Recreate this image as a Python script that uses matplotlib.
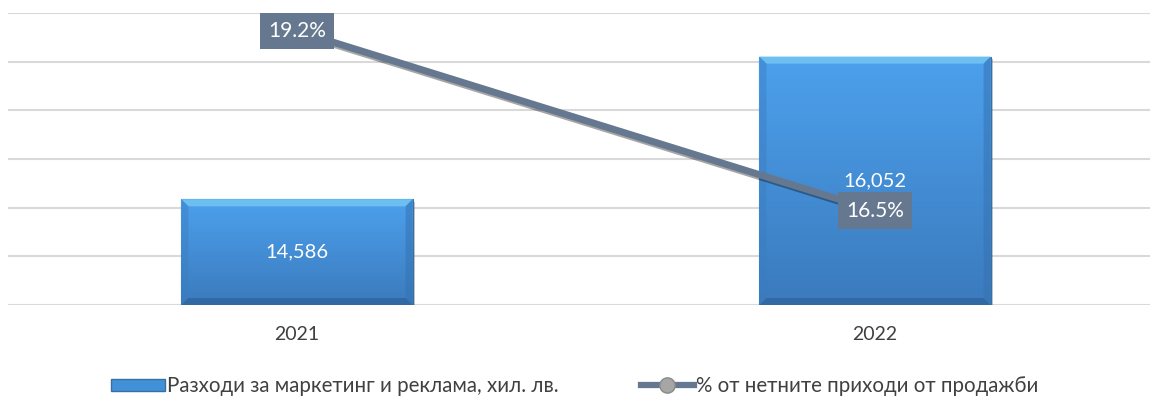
import numpy as np
import matplotlib.pyplot as plt
import matplotlib.patheffects as pe
from matplotlib.lines import Line2D
from matplotlib.patches import Patch, Polygon

plt.rcParams['font.family'] = ['Lato', 'DejaVu Sans']

years = ['2021', '2022']
spend = [14586, 16052]          # хил. лв.
share = [19.2, 16.5]            # % от нетните приходи

bar_label = 'Разходи за маркетинг и реклама, хил. лв.'
line_label = '% от нетните приходи от продажби'

line_col = '#66788f'
grid_col = '#d9d9d9'
text_col = '#404040'

fig = plt.figure(figsize=(11.5, 3.96), dpi=100)
ax = fig.add_axes([8 / 1150, 91 / 396, 1156 / 1150, 292 / 396])
ax2 = ax.twinx()

x = np.arange(len(years))
ymin, ymax = 13500, 16500
ax.set_xlim(-0.5, 1.5)
ax.set_ylim(ymin, ymax)
ax.set_yticks(np.arange(ymin, ymax + 1, 500))
ax.yaxis.grid(True, color=grid_col, lw=1.5)
ax.set_axisbelow(True)
for s in ['top', 'right', 'left', 'bottom']:
    ax.spines[s].set_visible(False)
    ax2.spines[s].set_visible(False)
ax.tick_params(axis='y', left=False, labelleft=False)
ax.tick_params(axis='x', length=0, pad=15, labelsize=14, labelcolor=text_col)
ax.set_xticks(x)
ax.set_xticklabels(years)

# bars with vertical gradient and bevelled edges
bw = 0.4
bars = ax.bar(x, spend, width=bw, color='#4191d9', edgecolor='#3a6f9f', lw=0.8, zorder=2,
              path_effects=[pe.SimplePatchShadow(offset=(2, -2), alpha=0.25), pe.Normal()])
grad = np.linspace(0, 1, 256).reshape(-1, 1)
top = np.array([0.30, 0.63, 0.93])
bot = np.array([0.23, 0.48, 0.74])
img = top + (bot - top) * grad[..., None]
bx = 7 * bw / 231                 # bevel width in x units (~7 px)
by = 7 * (ymax - ymin) / 292      # bevel height in y units (~7 px)
for b in bars:
    x0, w, h = b.get_x(), b.get_width(), b.get_height()
    x1 = x0 + w
    im = ax.imshow(img, extent=(x0, x1, ymin, h), aspect='auto', zorder=2.1, origin='upper')
    im.set_clip_path(b)
    bevels = [
        ([(x0, h), (x1, h), (x1 - bx, h - by), (x0 + bx, h - by)], '#6fc4f2', 0.9),
        ([(x0, h), (x0 + bx, h - by), (x0 + bx, ymin + by), (x0, ymin)], '#3a7cc0', 0.45),
        ([(x1, h), (x1 - bx, h - by), (x1 - bx, ymin + by), (x1, ymin)], '#3573b3', 0.55),
        ([(x0, ymin), (x0 + bx, ymin + by), (x1 - bx, ymin + by), (x1, ymin)], '#2d6299', 0.7),
    ]
    for pts, c, a in bevels:
        ax.add_patch(Polygon(pts, closed=True, fc=c, ec='none', alpha=a, zorder=2.2))
    ax.text(x0 + w / 2, ymin + (h - ymin) / 2, f'{h:,.0f}', ha='center', va='center',
            color='white', fontsize=14.5, zorder=3)

# line on secondary axis
ax2.set_ylim(15.08, 19.47)
ax2.set_yticks([])
ax2.plot(x, share, color=line_col, lw=5, solid_capstyle='round', zorder=4,
         path_effects=[pe.SimpleLineShadow(offset=(2, -2), alpha=0.35), pe.Normal()])
for xi, v in zip(x, share):
    ax2.text(xi, v, f'{v:.1f}%', ha='center', va='center', color='white', fontsize=15,
             zorder=5, bbox=dict(boxstyle='square,pad=0.4', fc=line_col, ec='none'))

handles = [
    Patch(facecolor='#4191d9', edgecolor='#3a6f9f', label=bar_label),
    Line2D([0], [0], color=line_col, lw=4.5, marker='o', markersize=11,
           markerfacecolor='#a6a6a6', markeredgecolor='#8a8a8a', label=line_label),
]
fig.legend(handles=handles, loc='center', bbox_to_anchor=(0.5, 10 / 396), ncol=2,
           frameon=False, fontsize=14.8, handlelength=2.6, handleheight=0.5,
           handletextpad=0.1, columnspacing=4.0, labelcolor=text_col)

fig.savefig('out.png', dpi=100)
